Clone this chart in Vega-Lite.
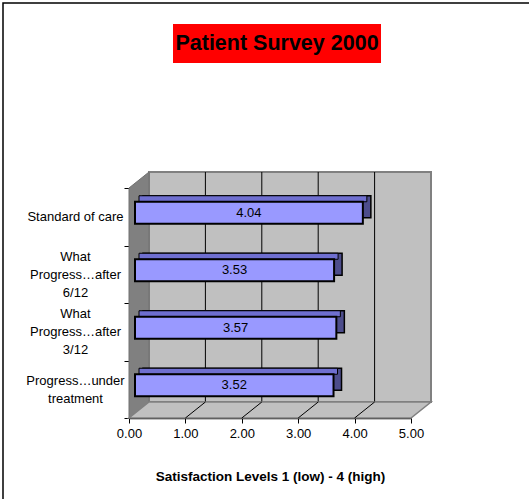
{
  "$schema": "https://vega.github.io/schema/vega-lite/v6.json",
  "width": 282,
  "height": 230,
  "autosize": {"type": "none"},
  "padding": {"left": 129, "top": 188, "right": 118, "bottom": 81},
  "background": "white",
  "config": {
    "view": {"stroke": null},
    "font": "Liberation Sans",
    "axisX": {
      "grid": false, "labelFontSize": 13, "labelColor": "#000", "tickColor": "#000",
      "domainColor": "#000", "tickSize": 5, "labelPadding": 4, "titleFontSize": 13.5,
      "titleFontWeight": "bold", "titleColor": "#000", "titlePadding": 29, "zindex": 1,
      "labelFont": "Liberation Sans", "titleFont": "Liberation Sans", "domainWidth": 1.5, "labelFlush": false
    },
    "axisY": {
      "domain": false, "tickBand": "extent", "tickSize": 5, "tickColor": "#000",
      "labelAlign": "center", "labelPadding": 49,
      "labelFontSize": 13, "labelLineHeight": 18, "labelColor": "#000", "grid": false,
      "labelFont": "Liberation Sans"
    }
  },
  "datasets": {
    "scores": [
      {"question": "Standard of care", "score": 4.04},
      {"question": "What Progress…after 6/12", "score": 3.53},
      {"question": "What Progress…after 3/12", "score": 3.57},
      {"question": "Progress…under treatment", "score": 3.52}
    ],
    "grid": [{"v": 1}, {"v": 2}, {"v": 3}, {"v": 4}]
  },
  "layer": [
    {
      "layer": [
        {
          "data": {"values": [{}]},
          "mark": {"type": "rect", "fill": "white", "fillOpacity": 0, "stroke": "#000", "strokeWidth": 1.5},
          "encoding": {"x": {"value": -126}, "x2": {"value": 420}, "y": {"value": -185}, "y2": {"value": 330}}
        },
        {
          "data": {"values": [{}]},
          "mark": {"type": "rect", "fill": "#c0c0c0", "stroke": "#808080", "strokeWidth": 2, "xOffset": 20, "x2Offset": 20, "yOffset": -16, "y2Offset": -16},
          "encoding": {
            "x": {"datum": 0, "type": "quantitative", "scale": {"domain": [0, 5], "nice": false}},
            "x2": {"datum": 5},
            "y": {"value": 0},
            "y2": {"value": "height"}
          }
        },
        {
          "data": {"name": "grid"},
          "mark": {"type": "rule", "color": "#000", "strokeWidth": 1, "xOffset": 20, "yOffset": -16, "y2Offset": -16},
          "encoding": {
            "x": {"field": "v", "type": "quantitative", "title": "Satisfaction Levels 1 (low) - 4 (high)"},
            "y": {"value": 0},
            "y2": {"value": "height"}
          }
        },
        {
          "data": {"values": [{}]},
          "mark": {"type": "point", "shape": "M0,0L0,-230L20,-246L20,-16Z", "size": 4, "filled": true, "opacity": 1, "fill": "#808080", "stroke": "#707070", "strokeWidth": 1},
          "encoding": {"x": {"datum": 0, "type": "quantitative"}, "y": {"value": "height"}}
        },
        {
          "data": {"values": [{}]},
          "mark": {"type": "point", "shape": "M0,0L20,-16L302,-16L282,0Z", "size": 4, "filled": true, "opacity": 1, "fill": "#c0c0c0", "stroke": "#808080", "strokeWidth": 1.5},
          "encoding": {"x": {"datum": 0, "type": "quantitative"}, "y": {"value": "height"}}
        },
        {
          "data": {"name": "grid"},
          "mark": {"type": "rule", "color": "#000", "strokeWidth": 1, "x2Offset": 20, "y2Offset": -16},
          "encoding": {
            "x": {"field": "v", "type": "quantitative", "title": "Satisfaction Levels 1 (low) - 4 (high)"},
            "x2": {"field": "v"},
            "y": {"value": "height"},
            "y2": {"value": "height"}
          }
        },
        {
          "data": {"name": "scores"},
          "mark": {"type": "bar", "size": 22, "fill": "#4d4d8c", "stroke": "#000", "strokeWidth": 1.5, "xOffset": 14, "x2Offset": 14, "yOffset": -10},
          "encoding": {
            "x": {"field": "score", "type": "quantitative", "title": "Satisfaction Levels 1 (low) - 4 (high)"},
            "y": {"field": "question", "type": "nominal", "title": null, "scale": {"domain": ["Standard of care", "What Progress…after 6/12", "What Progress…after 3/12", "Progress…under treatment"], "paddingInner": 0, "paddingOuter": 0}}
          }
        },
        {
          "data": {"name": "scores"},
          "mark": {"type": "bar", "size": 6, "fill": "#6f6fd0", "stroke": "#000", "strokeWidth": 1, "xOffset": 10, "x2Offset": 10, "yOffset": -18},
          "encoding": {
            "x": {"field": "score", "type": "quantitative", "title": "Satisfaction Levels 1 (low) - 4 (high)"},
            "y": {"field": "question", "type": "nominal", "title": null, "scale": {"domain": ["Standard of care", "What Progress…after 6/12", "What Progress…after 3/12", "Progress…under treatment"], "paddingInner": 0, "paddingOuter": 0}}
          }
        },
        {
          "data": {"name": "scores"},
          "mark": {"type": "bar", "size": 22, "fill": "#9999ff", "stroke": "#000", "strokeWidth": 2, "xOffset": 6, "x2Offset": 6, "yOffset": -4},
          "encoding": {
            "x": {"field": "score", "type": "quantitative", "title": "Satisfaction Levels 1 (low) - 4 (high)", "axis": {"values": [0, 1, 2, 3, 4, 5], "format": ".2f"}},
            "y": {"field": "question", "type": "nominal", "title": null, "scale": {"domain": ["Standard of care", "What Progress…after 6/12", "What Progress…after 3/12", "Progress…under treatment"], "paddingInner": 0, "paddingOuter": 0}, "axis": {"labelExpr": "split(replace(replace(replace(datum.label, 'What ', 'What|'), 'after ', 'after|'), 'under ', 'under|'), '|')", "labelOffset": -9, "labelBaseline": {"expr": "isString(datum.value) && indexof(datum.value, 'What') == 0 ? 'line-bottom' : (isString(datum.value) && indexof(datum.value, 'under') > 0 ? 'middle' : 'line-top')"}}}
          }
        },
        {
          "data": {"values": [{}]},
          "mark": {"type": "rect", "fill": "#ff0000"},
          "encoding": {"x": {"value": 44}, "x2": {"value": 252}, "y": {"value": -164}, "y2": {"value": -125}}
        },
        {
          "data": {"values": [{"t": "Patient Survey 2000"}]},
          "mark": {"type": "text", "fontSize": 21.5, "fontWeight": "bold", "color": "#000", "align": "center", "baseline": "middle", "font": "Liberation Sans"},
          "encoding": {"text": {"field": "t"}, "x": {"value": 148}, "y": {"value": -144}}
        }
      ]
    },
    {
      "data": {"name": "scores"},
      "mark": {"type": "text", "fontSize": 13, "color": "#000", "align": "center", "baseline": "middle", "xOffset": 6, "yOffset": -4, "font": "Liberation Sans"},
      "encoding": {
        "x": {"field": "score", "type": "quantitative", "scale": {"domain": [0, 10], "nice": false}, "axis": null},
        "y": {"field": "question", "type": "nominal", "title": null, "scale": {"domain": ["Standard of care", "What Progress…after 6/12", "What Progress…after 3/12", "Progress…under treatment"], "paddingInner": 0, "paddingOuter": 0}},
        "text": {"field": "score", "type": "quantitative", "format": ".2f"}
      }
    }
  ],
  "resolve": {"scale": {"x": "independent"}}
}
